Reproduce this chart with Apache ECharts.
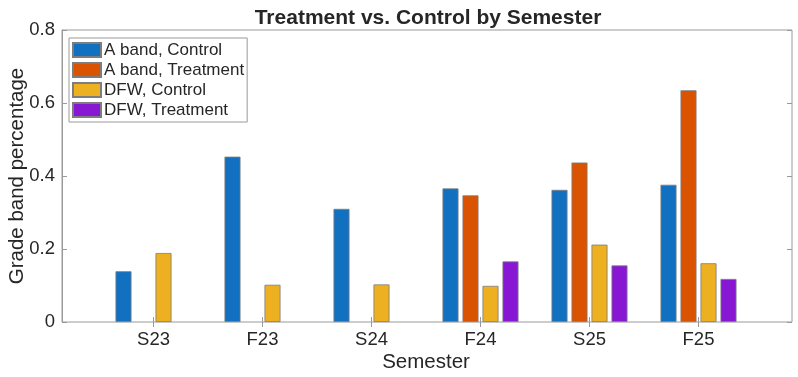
<!DOCTYPE html>
<html>
<head>
<meta charset="utf-8">
<script src="https://cdn.jsdelivr.net/npm/echarts@6/dist/echarts.min.js"></script>
<style>
	html, body { margin: 0; padding: 0; background: #fff; }
	#chart { width: 798px; height: 377px; }
</style>
</head>
<body>
<div id="chart"></div>
<script>
// data
var semesters = [ 'S23', 'F23', 'S24', 'F24', 'S25', 'F25' ];
var aControl = [ 0.139, 0.453, 0.310, 0.366, 0.362, 0.376 ];
var aTreatment = [ null, null, null, 0.347, 0.437, 0.635 ];
var dfwControl = [ 0.189, 0.102, 0.103, 0.099, 0.212, 0.161 ];
var dfwTreatment = [ null, null, null, 0.166, 0.155, 0.118 ];
var yTicks = [ 0, 0.2, 0.4, 0.6, 0.8 ];

var font = 'Liberation Sans, Arial, sans-serif';
var axisGray = '#9a9a9a';
var textDark = '#262626';

var myChart = echarts.init(document.getElementById('chart'));

function barSeries(name, data, color) {
	return {
		name : name,
		type : 'bar',
		xAxisIndex : 2,
		yAxisIndex : 2,
		barWidth : 16,
		barGap : '25%',
		itemStyle : {
			color : color,
			borderColor : '#7d7d7d',
			borderWidth : 0.8
		},
		emphasis : { disabled : true },
		data : data
	};
}

var option = {
	animation : false,
	textStyle : { fontFamily : font },
	title : {
		text : 'Treatment vs. Control by Semester',
		left : 423,
		textAlign : 'center',
		top : 3,
		textStyle : { fontSize : 21, fontWeight : 'bold', color : textDark, fontFamily : font }
	},
	legend : {
		orient : 'vertical',
		left : 69,
		top : 38,
		padding : [ 3, 3, 3, 3 ],
		itemWidth : 28,
		itemHeight : 14,
		itemGap : 2,
		icon : 'rect',
		borderColor : axisGray,
		borderWidth : 1,
		backgroundColor : '#fff',
		textStyle : { fontSize : 17, color : textDark, lineHeight : 18, fontFamily : font, padding : [ 0, 0, 0, -2 ] },
		data : [ 'A band, Control', 'A band, Treatment', 'DFW, Control', 'DFW, Treatment' ]
	},
	grid : [ {
		// frame
		left : 62,
		top : 30,
		width : 730,
		height : 292,
		outerBoundsMode : 'none',
		containLabel : false,
		show : true,
		borderColor : axisGray,
		borderWidth : 1
	}, {
		// bars, inset so category centres match the reference
		left : 99,
		top : 30,
		width : 654,
		height : 292,
		outerBoundsMode : 'none',
		containLabel : false
	} ],
	xAxis : [ {
		gridIndex : 0,
		type : 'category',
		data : semesters,
		show : false
	}, {
		gridIndex : 1,
		type : 'category',
		position : 'top',
		data : semesters,
		axisLine : { show : false },
		axisTick : { show : true, inside : true, alignWithLabel : true, length : 5, lineStyle : { color : axisGray } },
		axisLabel : { show : false }
	}, {
		gridIndex : 1,
		type : 'category',
		position : 'bottom',
		data : semesters,
		name : 'Semester',
		nameLocation : 'middle',
		nameGap : 30,
		nameMoveOverlap : false,
		nameTextStyle : { fontSize : 20.5, color : textDark, fontFamily : font },
		axisLine : { show : false },
		axisTick : { show : true, inside : true, alignWithLabel : true, length : 5, lineStyle : { color : axisGray } },
		axisLabel : { fontSize : 18.5, color : textDark, margin : 8, fontFamily : font }
	} ],
	yAxis : [ {
		gridIndex : 0,
		type : 'value',
		min : yTicks[0],
		max : yTicks[yTicks.length - 1],
		interval : 0.2,
		name : 'Grade band percentage',
		nameLocation : 'middle',
		nameGap : 34,
		nameMoveOverlap : false,
		nameTextStyle : { fontSize : 20.5, color : textDark, fontFamily : font },
		axisLine : { show : true, lineStyle : { color : axisGray } },
		axisTick : { show : true, inside : true, length : 5, lineStyle : { color : axisGray } },
		axisLabel : { fontSize : 18.5, color : textDark, margin : 7, fontFamily : font },
		splitLine : { show : false }
	}, {
		gridIndex : 0,
		type : 'value',
		position : 'right',
		min : yTicks[0],
		max : yTicks[yTicks.length - 1],
		interval : 0.2,
		axisLine : { show : false },
		axisTick : { show : true, inside : true, length : 5, lineStyle : { color : axisGray } },
		axisLabel : { show : false },
		splitLine : { show : false }
	}, {
		gridIndex : 1,
		type : 'value',
		min : yTicks[0],
		max : yTicks[yTicks.length - 1],
		show : false,
		splitLine : { show : false }
	} ],
	series : [
		barSeries('A band, Control', aControl, '#1170c0'),
		barSeries('A band, Treatment', aTreatment, '#da5300'),
		barSeries('DFW, Control', dfwControl, '#ecb020'),
		barSeries('DFW, Treatment', dfwTreatment, '#8817d4')
	]
};
myChart.setOption(option);
</script>
</body>
</html>
